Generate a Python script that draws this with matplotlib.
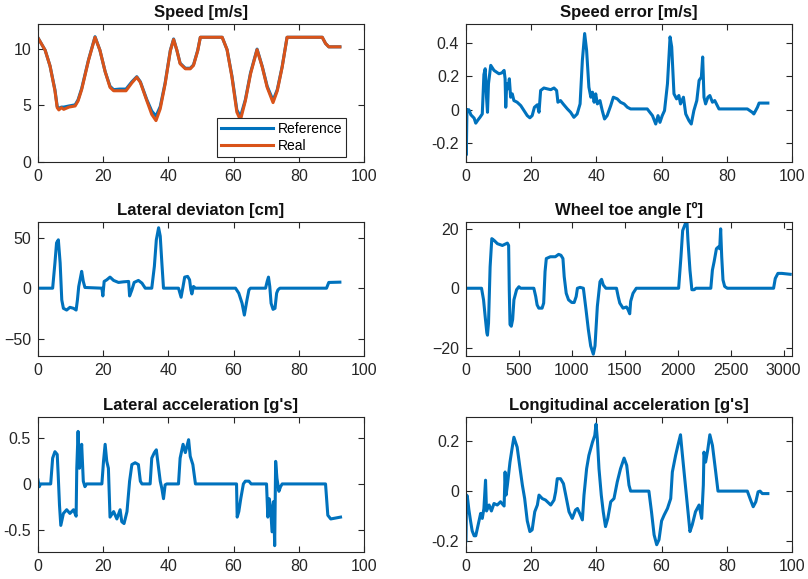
import matplotlib
matplotlib.use('Agg')
import matplotlib.pyplot as plt

plt.rcParams['font.family'] = ['Liberation Sans', 'DejaVu Sans']

# Velocidad [m/s]: referencia y real
speed_t = [0, 2.2, 3.7, 5.2, 5.9, 6.4, 7.2, 7.9, 9.5, 11.4, 12.3, 13.4, 15.5, 17.5, 19, 20.6, 22.1, 23.2, 25, 27,
           28.8, 30.3, 31.4, 33.4, 34.9, 36.2, 37.5, 39, 40.6, 41.6, 42.6, 43.6, 45.2, 46.7, 47.7, 49, 49.8, 56.5, 58, 59.5,
           61, 62.1, 63.6, 65.2, 67.2, 68.8, 70.3, 72.1, 73.4, 74.9, 76.4, 87.2, 88.2, 89.2, 92.6]
speed_ref = [11.0, 9.9, 8.5, 6.4, 4.9, 4.75, 4.85, 4.85, 4.95, 5.05, 5.5, 6.5, 9.05, 11.1, 9.9, 8.0, 6.7, 6.4, 6.45, 6.45,
             7.1, 7.55, 7.1, 5.5, 4.5, 4.05, 4.9, 7.0, 9.9, 10.9, 9.9, 8.75, 8.3, 8.3, 8.6, 9.9, 11.05, 11.05, 9.95, 7.6,
             4.6, 4.0, 5.5, 7.9, 10.0, 8.45, 6.7, 5.45, 6.4, 8.45, 11.05, 11.05, 10.5, 10.2, 10.2]
speed_real = [11.0, 9.9, 8.5, 6.3, 4.8, 4.6, 4.8, 4.65, 4.85, 4.95, 5.4, 6.4, 9.0, 11.05, 9.9, 8.0, 6.6, 6.3, 6.3, 6.3,
              7.0, 7.5, 7.05, 5.4, 4.2, 3.65, 4.7, 6.9, 9.85, 10.85, 9.9, 8.7, 8.25, 8.25, 8.55, 9.85, 11.05, 11.05, 9.95, 7.5,
              4.4, 3.7, 5.4, 7.8, 9.95, 8.4, 6.6, 5.25, 6.3, 8.4, 11.05, 11.05, 10.5, 10.2, 10.2]

# Error de velocidad [m/s]
err_t = [0, 0.1, 0.3, 0.9, 1.5, 2.5, 3.0, 3.7, 4.3, 5.0, 5.5, 5.9, 6.3, 6.6, 6.9, 7.6, 8.6, 10.1, 11.0, 11.7,
         12.0, 12.2, 12.5, 12.9, 13.3, 13.7, 14.2, 14.7, 15.7, 16.8, 17.8, 18.8, 19.6, 20.3, 21.0, 21.9, 22.4, 22.9, 23.9, 24.9,
         26.0, 27.0, 27.8, 28.2, 29.0, 29.8, 31.1, 32.1, 33.1, 34.1, 35.0, 35.7, 36.4, 37.0, 37.7, 38.3, 38.8, 39.3, 39.8, 40.3,
         41.1, 41.8, 42.5, 43.3, 44.4, 45.2, 46.4, 46.9, 47.4, 48.5, 49.5, 50.5, 55.6, 57.2, 58.2, 58.9, 59.5, 60.2, 60.9, 61.8,
         62.6, 63.1, 63.8, 64.6, 65.3, 65.8, 66.7, 67.4, 68.4, 69.1, 69.9, 70.8, 71.5, 72.2, 72.6, 73.0, 73.5, 74.2, 74.8, 75.6,
         76.3, 77.6, 86.3, 87.8, 88.3, 89.4, 89.9, 92.6]
err_val = [0.0, -0.27, 0.0, 0.0, -0.03, -0.05, -0.08, -0.06, -0.045, -0.025, 0.21, 0.245, 0.075, -0.015, 0.155, 0.265, 0.235, 0.215, 0.22, 0.235,
           0.185, 0.015, 0.155, 0.125, 0.185, 0.075, 0.095, 0.055, 0.045, 0.025, -0.005, -0.035, -0.048, -0.035, 0.015, 0.03, -0.015, 0.115, 0.13, 0.125,
           0.12, 0.13, 0.115, 0.045, 0.055, 0.035, 0.005, -0.015, -0.045, -0.025, 0.035, 0.295, 0.455, 0.355, 0.135, 0.075, 0.105, 0.045, 0.095, 0.035,
           0.055, -0.005, -0.055, -0.035, 0.025, 0.075, 0.065, 0.055, 0.045, 0.035, 0.015, 0.005, 0.005, -0.035, -0.085, -0.035, -0.075, -0.035, -0.005, 0.155,
           0.435, 0.375, 0.095, 0.065, 0.085, 0.035, 0.075, -0.025, -0.065, -0.085, -0.005, 0.055, 0.175, 0.195, 0.315, 0.075, 0.035, 0.075, 0.085, 0.045,
           0.055, 0.005, 0.005, -0.015, -0.025, 0.015, 0.04, 0.04]

# Desviacion lateral [cm]
dev_t = [0, 4.5, 5.2, 5.7, 6.25, 6.8, 7.3, 7.8, 8.8, 9.8, 10.9, 11.7, 12.1, 12.5, 12.9, 13.4, 13.9, 14.4, 19.6, 19.9,
         20.3, 21.1, 22.1, 23.2, 24.7, 26.2, 27.8, 28.1, 28.8, 29.5, 30.8, 31.9, 32.9, 34.9, 35.7, 36.3, 37.0, 37.5, 38.0, 38.5,
         43.1, 43.9, 44.5, 45.0, 45.9, 46.5, 46.9, 47.2, 47.7, 48.3, 60.6, 61.6, 62.6, 63.3, 64.1, 64.7, 65.2, 69.8, 70.3, 70.7,
         71.1, 71.5, 72.1, 72.7, 73.2, 73.6, 74.2, 88.5, 89.2, 92.6]
dev_val = [0, 0, 25, 45, 48, 25, -11.7, -20, -21.7, -19, -20, -21.7, -11.7, 1.7, 8.3, 16.7, 6.7, 0.7, 0, -7.7,
           6.7, 8.3, 11, 7.7, 5.7, 6.3, 6.7, -7.7, -1.7, 5.7, 7.7, 5, 0, 0, 21.7, 48, 60, 51.7, 25, 0,
           0, -9, 1.7, 11, 11.7, 8.3, -1.7, -5.7, 1.7, 0, 0, -5, -15, -26.7, -11.7, -1.7, 0, 0, 6.7, 11,
           1.7, -15, -21, -20, -5, -1.7, 0, 0, 5.7, 6]

# Angulo de giro de rueda [grados], eje x en muestras
toe_x = [0, 147, 166, 181, 197, 203, 213, 228, 244, 266, 297, 344, 391, 403, 409, 416, 428, 441, 453, 478,
         500, 516, 641, 659, 672, 688, 719, 734, 747, 759, 797, 844, 875, 897, 916, 928, 947, 969, 1000, 1022,
         1041, 1053, 1078, 1109, 1134, 1156, 1178, 1203, 1219, 1241, 1266, 1281, 1297, 1322, 1422, 1438, 1453, 1484, 1516, 1531,
         1547, 1556, 1578, 1609, 2009, 2031, 2047, 2072, 2088, 2097, 2116, 2134, 2156, 2172, 2313, 2328, 2344, 2366, 2384, 2397,
         2406, 2416, 2428, 2444, 2469, 2906, 2922, 2947, 2984, 3063]
toe_val = [0, 0, -3.9, -9.4, -15, -15.8, -11.7, 7.2, 16.7, 16.1, 15, 14.4, 15.2, 14.4, -0.5, -12.2, -12.8, -10.5, -3.9, -0.5,
           0.5, 0, 0, -2.8, -5.6, -6.7, -6.7, -5, 5.6, 10, 10.6, 10.6, 11.4, 11.1, 10, 3.9, -1.7, -3.9, -4.8, -4.8,
           -2.8, 0, 0.3, 0, -7.2, -13.9, -19.4, -22.2, -19.4, -6.1, 2.2, 3, 1.1, 0, 0, -2.8, -5, -6.7, -6.3, -7.2,
           -8.6, -4.4, -1.7, 0, 0, 10.6, 19.4, 21.7, 22.2, 16.1, 6.1, -0.5, -0.5, 0, 0, 6.1, 8.9, 13.3, 13.9, 13.3,
           20, 10.6, 2.8, 0.6, 0, 0, 3.3, 5, 5, 4.7]

# Aceleracion lateral [g]
lat_t = [0, 0.4, 0.8, 3.9, 4.5, 5.2, 5.9, 6.2, 6.6, 7.0, 7.8, 8.8, 9.8, 10.9, 11.7, 11.9, 12.3, 12.7, 12.9, 13.4,
         13.9, 14.4, 14.9, 19.6, 20.1, 20.6, 21.1, 21.6, 22.1, 23.2, 24.2, 25.2, 25.7, 26.4, 27.3, 28.1, 28.8, 29.8, 30.8, 31.4,
         31.9, 34.4, 34.9, 35.7, 36.3, 37.0, 37.5, 38.0, 38.5, 39.0, 39.5, 43.1, 43.6, 44.5, 45.2, 46.2, 46.7, 47.5, 48.3, 60.9,
         61.1, 61.6, 62.2, 63.0, 63.6, 64.7, 65.4, 70.1, 70.5, 70.9, 71.3, 71.8, 72.3, 72.6, 72.9, 73.3, 73.9, 74.4, 74.9, 88.2,
         88.9, 89.8, 92.8]
lat_val = [0.044, -0.03, 0, 0, 0.28, 0.35, 0.32, 0.1, -0.23, -0.45, -0.32, -0.28, -0.32, -0.28, -0.35, 0.17, 0.57, 0.17, 0.21, 0.43,
           0.03, -0.03, 0, 0, 0.245, 0.43, 0.245, 0.17, -0.36, -0.3, -0.38, -0.28, -0.41, -0.43, -0.3, 0.03, 0.21, 0.23, 0.21, 0.03,
           0, 0, 0.28, 0.34, 0.37, 0.17, 0.03, -0.05, -0.16, -0.01, 0, 0, 0.28, 0.43, 0.34, 0.48, 0.3, 0.21, 0, 0,
           -0.36, -0.3, -0.16, 0, 0.03, 0.03, 0, 0, -0.36, -0.16, -0.23, -0.52, -0.19, -0.67, 0.245, 0.06, -0.08, -0.03, 0, 0,
           -0.34, -0.38, -0.36]

# Aceleracion longitudinal [g]
lon_t = [0, 0.2, 0.4, 0.9, 1.4, 1.9, 2.5, 3.0, 3.5, 4.0, 4.5, 5.0, 5.5, 6.0, 6.3, 7.1, 7.8, 8.6, 9.6, 10.6,
         11.7, 12.0, 12.3, 12.7, 13.5, 14.2, 14.7, 15.7, 16.6, 17.3, 18.0, 18.8, 19.6, 20.3, 21.1, 21.9, 22.4, 23.4, 24.4, 26.0,
         27.0, 27.5, 28.0, 29.0, 29.9, 30.6, 31.6, 32.6, 33.6, 34.2, 34.9, 35.7, 36.2, 37.0, 37.7, 38.8, 39.5, 39.9, 40.3, 40.8,
         41.5, 42.1, 42.8, 43.5, 44.4, 45.4, 46.4, 47.4, 48.5, 49.3, 50.0, 50.5, 56.1, 56.9, 57.7, 58.5, 59.2, 60.0, 60.8, 61.8,
         62.8, 63.3, 64.3, 65.0, 65.8, 66.3, 67.1, 67.9, 68.7, 69.4, 70.4, 71.5, 72.3, 72.8, 73.0, 73.5, 74.2, 74.8, 75.6, 76.6,
         77.3, 86.3, 87.3, 88.1, 88.9, 89.6, 90.2, 90.9, 92.6]
lon_val = [-0.2, -0.016, -0.02, -0.076, -0.12, -0.16, -0.18, -0.18, -0.15, -0.12, -0.09, -0.11, -0.07, 0.044, -0.08, -0.056, -0.08, -0.05, -0.056, -0.043,
           -0.06, 0.077, -0.016, 0.024, 0.117, 0.177, 0.217, 0.177, 0.09, 0.024, -0.03, -0.12, -0.163, -0.156, -0.083, -0.056, -0.016, -0.03, -0.036, -0.056,
           -0.036, -0.003, 0.05, 0.05, 0.03, -0.016, -0.083, -0.11, -0.076, -0.07, -0.09, -0.116, -0.016, 0.09, 0.144, 0.197, 0.224, 0.27, 0.21, 0.09,
           -0.016, -0.083, -0.143, -0.11, -0.043, -0.03, 0.037, 0.09, 0.133, 0.104, 0.024, 0, 0, -0.083, -0.176, -0.216, -0.196, -0.12, -0.096, -0.07,
           -0.03, 0.077, 0.144, 0.184, 0.227, 0.157, 0.05, -0.056, -0.163, -0.136, -0.083, -0.056, -0.11, 0.024, 0.157, 0.117, 0.17, 0.227, 0.184, 0.077,
           0, 0, -0.036, -0.063, -0.043, -0.003, 0, -0.01, -0.01]

blue = '#0072BD'
orange = '#D95319'
title_kw = dict(fontsize=12, fontweight='bold', color='#111111', pad=5)

fig = plt.figure(figsize=(8.08, 5.79), dpi=100)

# posiciones de los ejes (estilo subplot de MATLAB)
cols = [0.047, 0.5767]
rows = [(0.7207, 0.2373), (0.3857, 0.2314), (0.0472, 0.2332)]
w = 0.4035
axs = [[fig.add_axes([c, r[0], w, r[1]]) for c in cols] for r in rows]

ax = axs[0][0]
ax.plot(speed_t, speed_ref, color=blue, lw=2.2, label='Reference')
ax.plot(speed_t, speed_real, color=orange, lw=2.2, label='Real')
ax.set_title('Speed [m/s]', **title_kw)
ax.set_xlim(0, 100)
ax.set_ylim(0, 12.2)
ax.set_yticks([0, 5, 10])
leg = ax.legend(loc='lower right', bbox_to_anchor=(0.945, 0.034), borderaxespad=0,
                fontsize=10, fancybox=False, framealpha=1, edgecolor='#262626',
                handlelength=3.7, handletextpad=0.35, borderpad=0.3, labelspacing=0.2)
leg.get_frame().set_linewidth(0.8)

ax = axs[0][1]
ax.plot(err_t, err_val, color=blue, lw=2.2)
ax.set_title('Speed error [m/s]', **title_kw)
ax.set_xlim(0, 100)
ax.set_ylim(-0.31, 0.51)
ax.set_yticks([-0.2, 0, 0.2, 0.4])
ax.set_yticklabels(['-0.2', '0', '0.2', '0.4'])

ax = axs[1][0]
ax.plot(dev_t, dev_val, color=blue, lw=2.2)
ax.set_title('Lateral deviaton [cm]', **title_kw)
ax.set_xlim(0, 100)
ax.set_ylim(-67, 66)
ax.set_yticks([-50, 0, 50])

ax = axs[1][1]
ax.plot(toe_x, toe_val, color=blue, lw=2.2)
ax.set_title('Wheel toe angle [º]', **title_kw)
ax.set_xlim(0, 3080)
ax.set_ylim(-22.7, 22.4)
ax.set_yticks([-20, 0, 20])

ax = axs[2][0]
ax.plot(lat_t, lat_val, color=blue, lw=2.2)
ax.set_title("Lateral acceleration [g's]", **title_kw)
ax.set_xlim(0, 100)
ax.set_ylim(-0.735, 0.73)
ax.set_yticks([-0.5, 0, 0.5])
ax.set_yticklabels(['-0.5', '0', '0.5'])

ax = axs[2][1]
ax.plot(lon_t, lon_val, color=blue, lw=2.2)
ax.set_title("Longitudinal acceleration [g's]", **title_kw)
ax.set_xlim(0, 100)
ax.set_ylim(-0.244, 0.3)
ax.set_yticks([-0.2, 0, 0.2])
ax.set_yticklabels(['-0.2', '0', '0.2'])

for row in axs:
    for ax in row:
        ax.tick_params(direction='in', top=True, right=True, labelsize=11.5,
                       length=4, width=0.8, colors='#262626', pad=5)
        for s in ax.spines.values():
            s.set_linewidth(0.8)
            s.set_color('#262626')
        if ax is axs[1][1]:
            ax.set_xticks([0, 500, 1000, 1500, 2000, 2500, 3000])
        else:
            ax.set_xticks([0, 20, 40, 60, 80, 100])

fig.savefig('out.png', dpi=100)
